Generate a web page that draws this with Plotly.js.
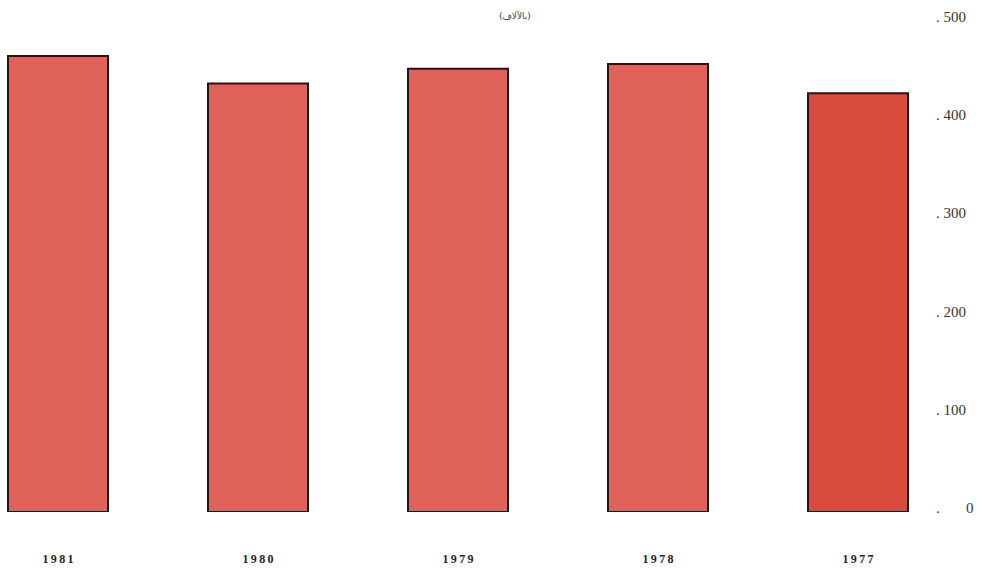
<!DOCTYPE html>
<html>
<head>
<meta charset="utf-8">
<script src="https://cdn.plot.ly/plotly-3.0.1.min.js"></script>
<style>html,body{margin:0;padding:0;background:#fff;}#chart{width:989px;height:572px;}</style>
</head>
<body>
<div id="chart"></div>
<script>
var years = ["1981", "1980", "1979", "1978", "1977"];
var values = [464, 436, 451, 456, 426];
var barColors = ["#e1625a", "#e1625a", "#e1625a", "#e0605a", "#d94b3c"];
var yTickVals = [0, 100, 200, 300, 400, 500];
var yTickText = [".\u2003\u2002 0", ". 100", ". 200", ". 300", ". 400", ". 500"];
var subtitle = "(بالآلاف)";

var trace = {
  type: "bar",
  x: years,
  y: values,
  width: 0.5,
  marker: {color: barColors, line: {color: "#1a1a1a", width: 2}},
  hoverinfo: "x+y"
};

var layout = {
  width: 989, height: 572,
  margin: {l: 0, r: 69, t: 0, b: 60},
  paper_bgcolor: "#ffffff", plot_bgcolor: "#ffffff",
  showlegend: false,
  xaxis: {
    type: "category",
    range: [-0.29, 4.31],
    tickvals: years,
    ticktext: years.map(function(s){ return s.split("").join("\u2009"); }),
    showgrid: false, zeroline: false, showline: false, ticks: "",
    ticklabelstandoff: 38,
    tickfont: {family: "Liberation Serif, serif", size: 12, color: "#222", weight: "bold"}
  },
  yaxis: {
    side: "right",
    range: [0, 521],
    tickvals: yTickVals,
    ticktext: yTickText,
    showgrid: false, zeroline: false, showline: false, ticks: "",
    ticklabelstandoff: 15,
    ticklabelshift: -4,
    tickfont: {family: "Liberation Serif, serif", size: 15, color: "#333"}
  },
  annotations: [{
    text: subtitle, xref: "paper", yref: "paper",
    x: 515/920, y: 1, yanchor: "top", yshift: -8,
    showarrow: false,
    font: {family: "DejaVu Sans, sans-serif", size: 9, color: "#444"}
  }]
};

Plotly.newPlot("chart", [trace], layout, {displayModeBar: false, staticPlot: true});
</script>
</body>
</html>
